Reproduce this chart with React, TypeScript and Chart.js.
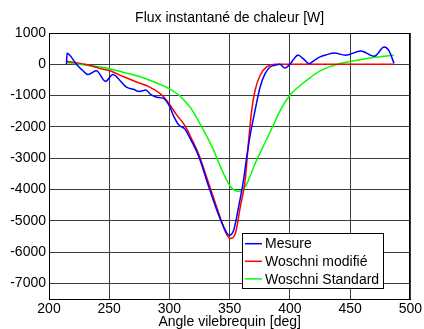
import React, { useEffect, useRef } from "react";
import { Chart, registerables } from "chart.js";

Chart.register(...registerables);

const FONT = "'Liberation Sans', Arial, Helvetica, sans-serif";
const TITLE = "Flux instantané de chaleur [W]";
const X_TITLE = "Angle vilebrequin [deg]";

const xTicks = [200, 250, 300, 350, 400, 450, 500];
const yTicks = [1000, 0, -1000, -2000, -3000, -4000, -5000, -6000, -7000];

const seriesNames = ["Mesure", "Woschni modifié", "Woschni Standard"];
const seriesColors = ["#0000ff", "#ff0000", "#00ff00"];

const mesureAngle = [
  214.5, 215, 217.3, 222.8, 228, 232.4, 239.3, 247, 253, 258.5, 264, 270, 275,
  280.5, 284, 288.7, 295, 299.7, 303.8, 308, 312.5, 316.2, 324.4, 332.7, 340.9,
  347.8, 349.5, 353.3, 357.4, 361.5, 364.2, 367, 371.1, 375.3, 379.4, 383.5,
  387.6, 391.7, 395.9, 400, 403, 406.8, 411, 416, 420, 425, 430, 437, 446, 459,
  470, 478.3, 482, 486.5,
];
const mesureFlux = [
  0, 350, 290, 0, -200, -330, -210, -545, -330, -500, -725, -800, -870, -820,
  -950, -1045, -1090, -1310, -1680, -1950, -2055, -2300, -2950, -3920, -4820,
  -5400, -5460, -5300, -4560, -3700, -2960, -2270, -1470, -725, -300, -85, -30,
  0, -120, 0, 150, 300, 180, 20, 120, 235, 300, 360, 290, 425, 255, 550, 450, 30,
];

const modifAngle = [
  214.6, 230, 242, 250, 262, 275, 283.2, 294.2, 299.7, 305.2, 313.5, 319, 324.4,
  332.7, 340.9, 347, 350.5, 354.7, 358.8, 362.9, 365.6, 368.3, 371.1, 375.3,
  380.7, 387.6, 486.5,
];
const modifFlux = [
  100, 0, -130, -200, -400, -600, -720, -1000, -1260, -1575, -2000, -2430,
  -2880, -3820, -4750, -5400, -5570, -5410, -4560, -3700, -2500, -1470, -830,
  -350, -85, 0, 0,
];

const standardAngle = [
  214.6, 230, 250.3, 262, 275, 287, 299.7, 308, 314, 319, 327.2, 335.4, 343.7,
  349.1, 353, 357, 360, 363.5, 371.2, 379.4, 385, 392, 400, 407, 415, 423.3,
  432, 441, 451, 468, 486.5,
];
const standardFlux = [
  60, -20, -140, -260, -390, -560, -780, -990, -1230, -1470, -2030, -2640,
  -3390, -3810, -4000, -4060, -4030, -3880, -3170, -2500, -2050, -1470, -990,
  -725, -480, -250, -90, 20, 100, 210, 290,
];

const toPoints = (xs: number[], ys: number[]) =>
  xs.map((x, i) => ({ x, y: ys[i] }));

const overlayPlugin = {
  id: "overlay",
  afterDraw(chart: any) {
    const { ctx, chartArea: a } = chart;
    ctx.save();
    ctx.strokeStyle = "#000";
    ctx.lineWidth = 1;
    ctx.strokeRect(
      Math.round(a.left) + 0.5,
      Math.round(a.top) + 0.5,
      Math.round(a.right - a.left) - 1,
      Math.round(a.bottom - a.top)
    );
    ctx.font = `14px ${FONT}`;
    ctx.fillStyle = "#000";
    ctx.textAlign = "center";
    ctx.textBaseline = "alphabetic";
    ctx.fillText(TITLE, (a.left + a.right) / 2, a.top - 11);

    const labels = chart.data.datasets.map((d: any) => d.label);
    const colors = chart.data.datasets.map((d: any) => d.borderColor);
    let maxW = 0;
    labels.forEach((l: string) => {
      maxW = Math.max(maxW, ctx.measureText(l).width);
    });
    const boxW = Math.round(3 + 17 + 3 + maxW + 4);
    const rowH = 17.6;
    const boxH = 55;
    const right = Math.round(a.right - 27.5);
    const bottom = Math.round(a.bottom - 10.7);
    const left = right - boxW;
    const top = bottom - boxH;
    ctx.fillStyle = "#fff";
    ctx.fillRect(left, top, boxW, boxH);
    ctx.strokeStyle = "#000";
    ctx.lineWidth = 1;
    ctx.strokeRect(left + 0.5, top + 0.5, boxW, boxH);
    ctx.textAlign = "left";
    labels.forEach((l: string, i: number) => {
      const y = top + 10.7 + i * rowH;
      ctx.strokeStyle = colors[i];
      ctx.lineWidth = 1.5;
      ctx.beginPath();
      ctx.moveTo(left + 3, y);
      ctx.lineTo(left + 20, y);
      ctx.stroke();
      ctx.fillStyle = "#000";
      ctx.fillText(l, left + 23, y + 4.6);
    });
    ctx.restore();
  },
};

export default function App() {
  const ref = useRef<HTMLCanvasElement | null>(null);

  useEffect(() => {
    if (!ref.current) return;
    const chart = new Chart(ref.current, {
      type: "line",
      data: {
        datasets: [
          { data: toPoints(mesureAngle, mesureFlux) },
          { data: toPoints(modifAngle, modifFlux) },
          { data: toPoints(standardAngle, standardFlux) },
        ].map((d, i) => ({
          ...d,
          label: seriesNames[i],
          borderColor: seriesColors[i],
          backgroundColor: seriesColors[i],
          borderWidth: 1.5,
          pointRadius: 0,
          fill: false,
          cubicInterpolationMode: "monotone" as const,
        })),
      },
      options: {
        responsive: false,
        animation: false,
        events: [],
        layout: { padding: { top: 33, right: 11.5, bottom: 0, left: 0 } },
        plugins: {
          legend: { display: false },
          title: { display: false },
          tooltip: { enabled: false },
        },
        scales: {
          x: {
            type: "linear",
            min: 200,
            max: 500,
            afterBuildTicks: (s: any) => {
              s.ticks = xTicks.map((v) => ({ value: v }));
            },
            afterFit: (s: any) => {
              s.height = 30;
            },
            ticks: {
              color: "#000",
              font: { family: FONT, size: 14 },
              padding: 2,
              maxRotation: 0,
              autoSkip: false,
              callback: (v: any) => String(v),
            },
            grid: { color: "#3c3c3c", lineWidth: 1, drawTicks: false },
            border: { display: true, color: "#000" },
            title: {
              display: true,
              text: X_TITLE,
              color: "#000",
              font: { family: FONT, size: 14, lineHeight: 1 },
              padding: { top: 0, bottom: 0 },
            },
          },
          y: {
            type: "linear",
            min: -7500,
            max: 1000,
            afterBuildTicks: (s: any) => {
              s.ticks = yTicks.map((v) => ({ value: v }));
            },
            afterFit: (s: any) => {
              s.width = 49;
            },
            ticks: {
              color: "#000",
              font: { family: FONT, size: 14 },
              padding: 3,
              autoSkip: false,
              callback: (v: any) => String(v),
            },
            grid: { color: "#3c3c3c", lineWidth: 1, drawTicks: false },
            border: { display: true, color: "#000" },
          },
        },
      },
      plugins: [overlayPlugin],
    });
    return () => chart.destroy();
  }, []);

  return (
    <div style={{ position: "absolute", left: 0, top: 0, width: 424, height: 329, background: "#fff" }}>
      <canvas ref={ref} width={424} height={329} />
    </div>
  );
}
